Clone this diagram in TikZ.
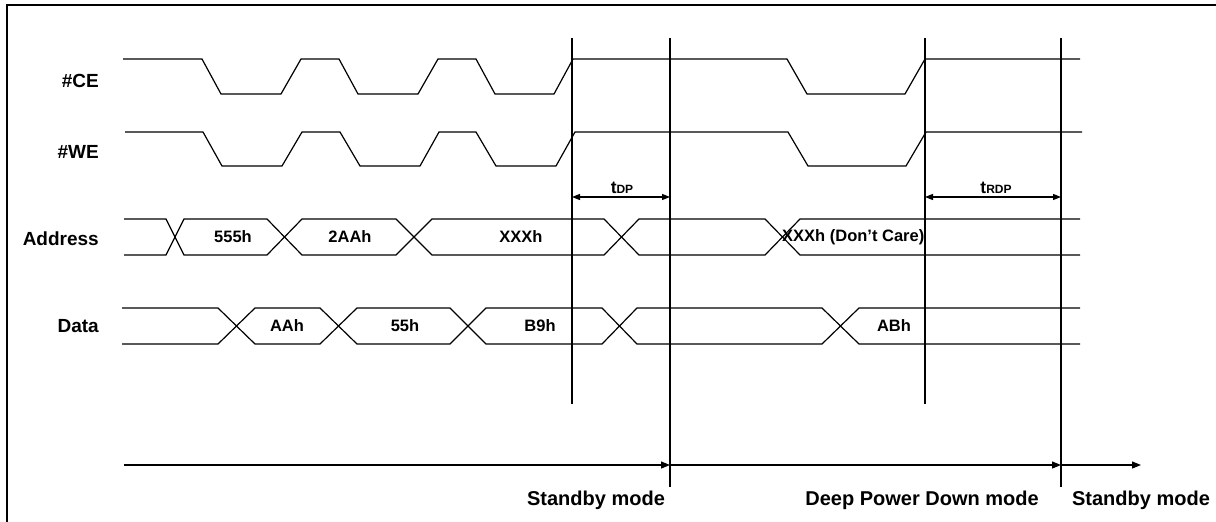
\documentclass[tikz,border=0pt]{standalone}
\usepackage{fontspec}
\setmainfont{Liberation Sans}
\usetikzlibrary{arrows.meta}
\begin{document}
\begin{tikzpicture}[x=1pt,y=-1pt,
  sig/.style={line width=1.2pt, line join=miter},
  marker/.style={line width=1.3pt},
  frame/.style={line width=2.3pt},
  lbl/.style={font=\fontsize{19}{22}\selectfont\bfseries, anchor=east, inner sep=0pt},
  val/.style={font=\fontsize{16.5}{19}\selectfont\bfseries, inner sep=0pt},
  modelbl/.style={font=\fontsize{20}{23}\selectfont\bfseries, inner sep=0pt},
  timelbl/.style={anchor=base, inner sep=0pt, font=\bfseries},
  fwd/.style={line width=1.2pt, -{Triangle[length=9pt,width=7pt]}},
  both/.style={line width=1.2pt, {Triangle[length=8pt,width=6pt]}-{Triangle[length=8pt,width=6pt]}}]
\useasboundingbox (0,0) rectangle (1216,522);
% frame
\draw[frame] (7,522) -- (7,5) -- (1216,5);
% row labels
\node[lbl] (ce) at (99,81) {\#CE};
\node[lbl] (we) at (99,152) {\#WE};
\node[lbl] (addr) at (99,239) {Address};
\node[lbl] (data) at (99,326) {Data};
% #CE
\draw[sig] (123,59) -- (202,59) -- (221,94) -- (281,94) -- (301,59) -- (339,59) -- (358,94) -- (418,94) -- (438,59) -- (476,59) -- (495,94) -- (554,94) -- (573,59) -- (787,59) -- (807,94) -- (905,94) -- (925,59) -- (1080,59);
% #WE
\draw[sig] (125,132) -- (203,132) -- (222,166) -- (282,166) -- (302,132) -- (340,132) -- (360,166) -- (420,166) -- (439,132) -- (476,132) -- (496,166) -- (556,166) -- (575,132) -- (788,132) -- (808,166) -- (906,166) -- (926,132) -- (1082,132);
% Address bus
\draw[sig] (124,219) -- (166,219) -- (184,255) -- (267,255) -- (302,219) -- (396,219) -- (432,255) -- (604,255) -- (639,219) -- (765,219) -- (800,255) -- (1080,255);
\draw[sig] (124,255) -- (166,255) -- (184,219) -- (267,219) -- (302,255) -- (396,255) -- (432,219) -- (604,219) -- (639,255) -- (765,255) -- (800,219) -- (1080,219);
% Data bus
\draw[sig] (122,308) -- (218,308) -- (255,344) -- (320,344) -- (357,308) -- (450,308) -- (486,344) -- (602,344) -- (637,308) -- (822,308) -- (859,344) -- (1080,344);
\draw[sig] (122,344) -- (218,344) -- (255,308) -- (320,308) -- (357,344) -- (450,344) -- (486,308) -- (602,308) -- (637,344) -- (822,344) -- (859,308) -- (1080,308);
% bus values
\node[val] (a1) at (233,237) {555h};
\node[val] (a2) at (350,237) {2AAh};
\node[val] (a3) at (521,237) {XXXh};
\node[val, anchor=west] (a4) at (782,237) {XXXh (Don’t Care)};
\node[val] (d1) at (287,326) {AAh};
\node[val] (d2) at (405,326) {55h};
\node[val] (d3) at (540,326) {B9h};
\node[val] (d4) at (894,326) {ABh};
% markers
\coordinate (v1t) at (572,38); \coordinate (v1b) at (572,404);
\coordinate (v2t) at (670,38); \coordinate (v2b) at (670,487);
\coordinate (v3t) at (925,38); \coordinate (v3b) at (925,404);
\coordinate (v4t) at (1061,38); \coordinate (v4b) at (1061,487);
\draw[marker] (v1t) -- (v1b);
\draw[marker] (v2t) -- (v2b);
\draw[marker] (v3t) -- (v3b);
\draw[marker] (v4t) -- (v4b);
% timing intervals
\coordinate (p1) at (572,197); \coordinate (p2) at (670,197);
\coordinate (p3) at (925,197); \coordinate (p4) at (1061,197);
\draw[both] (p1) -- (p2);
\draw[both] (p3) -- (p4);
\node[timelbl] (tdp) at (622,193.5) {\fontsize{17.5}{19}\selectfont t\fontsize{12}{14}\selectfont DP};
\node[timelbl] (trdp) at (996,193.5) {\fontsize{17.5}{19}\selectfont t\fontsize{12}{14}\selectfont RDP};
% mode timeline
\coordinate (s0) at (124,465);
\coordinate (s1) at (670,465);
\coordinate (s2) at (1061,465);
\coordinate (s3) at (1141,465);
\draw[fwd] (s0) -- (s1);
\draw[fwd] (s1) -- (s2);
\draw[fwd] (s2) -- (s3);
\node[modelbl] (m1) at (596,500) {Standby mode};
\node[modelbl] (m2) at (922,500) {Deep Power Down mode};
\node[modelbl] (m3) at (1141,500) {Standby mode};
\end{tikzpicture}
\end{document}
